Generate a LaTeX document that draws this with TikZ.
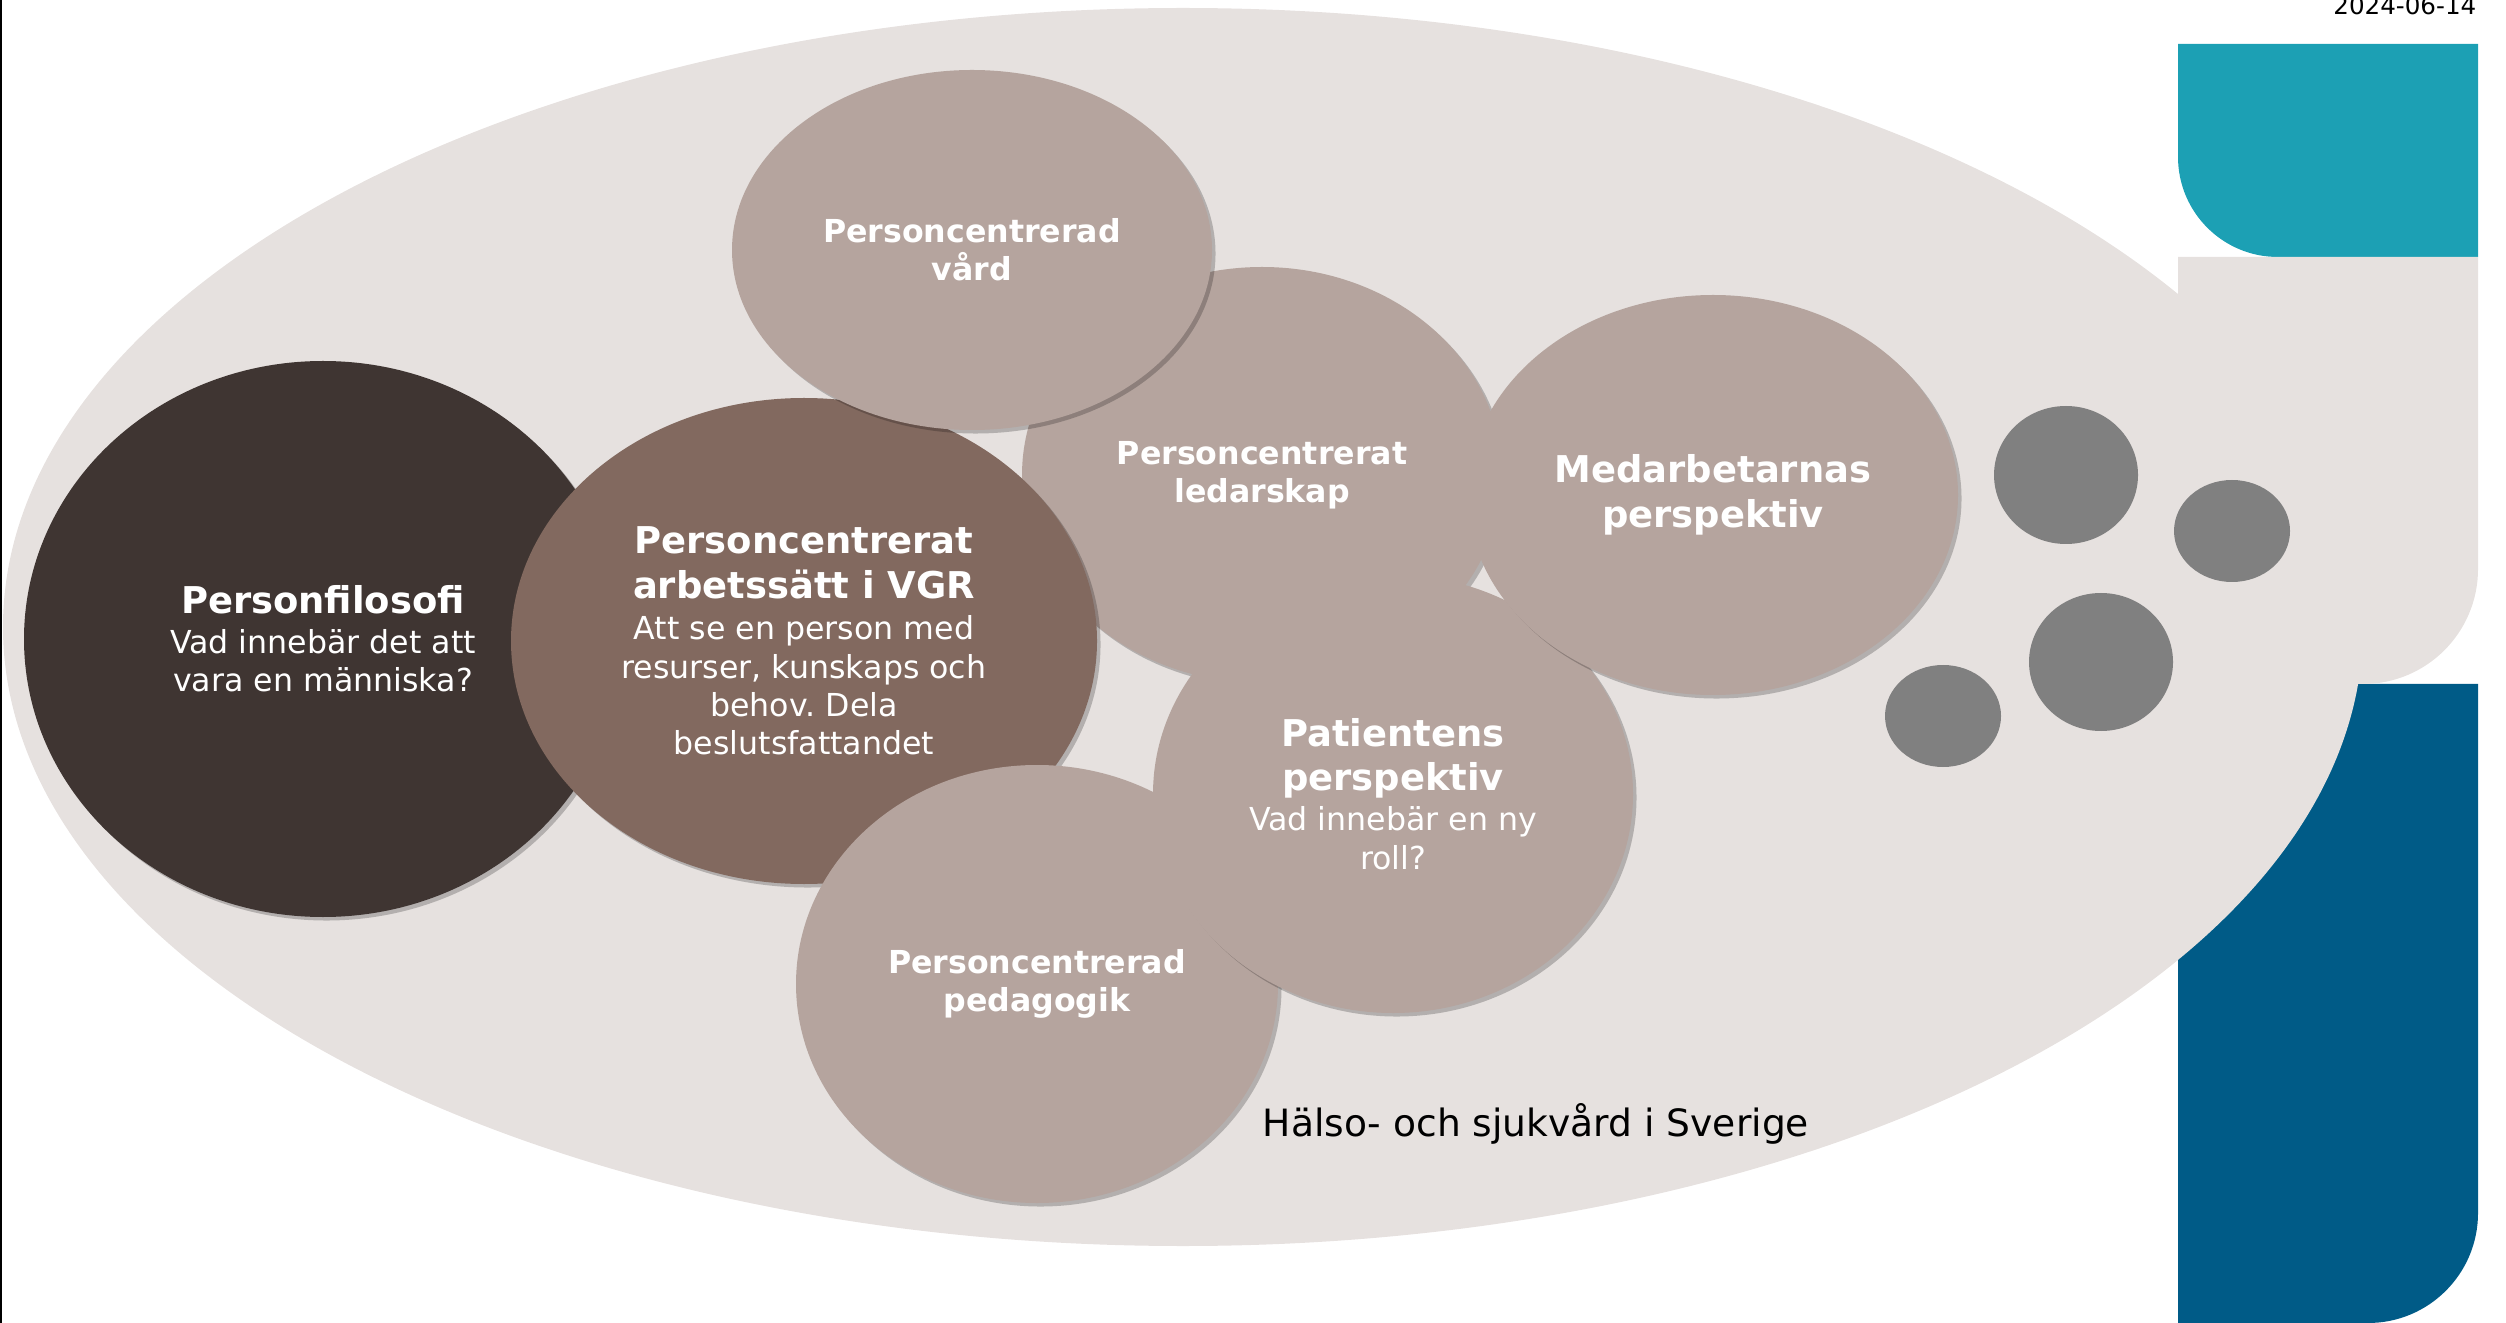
\documentclass[tikz,border=0pt]{standalone}
\usepackage{fontspec}
\setmainfont{DejaVu Sans}
\frenchspacing
\usetikzlibrary{shapes.geometric,shadows}
\definecolor{bgc}{HTML}{E6E1DF}
\definecolor{taupe}{HTML}{B5A49E}
\definecolor{mocca}{HTML}{82695F}
\definecolor{darkc}{HTML}{3F3532}
\definecolor{tealc}{HTML}{1CA0B4}
\definecolor{bluec}{HTML}{005B87}
\tikzset{b/.style={ellipse,fill=taupe,text=white,align=center,inner sep=0pt,
  font=\fontsize{9}{10.9}\selectfont,
  drop shadow={shadow xshift=1pt,shadow yshift=-1pt,opacity=.22,fill=black}}}
\tikzset{d/.style={ellipse,fill=black!50,inner sep=0pt}}
\tikzset{l/.style={inner sep=0pt,text=black}}
\newcommand\bigt[1]{{\fontsize{10.5}{12.7}\selectfont\bfseries #1}}
\newcommand\smt[1]{{\bfseries #1}}

\begin{document}
\begin{tikzpicture}
  \useasboundingbox (0,0) rectangle (25.06,-13.23);
  \fill[bluec] (21.78,-6.84) -| (24.78,-12.13) arc[start angle=0,end angle=-90,radius=1.1] -- (21.78,-13.23) -- cycle;
  \fill[tealc] (21.78,-0.44) -| (24.78,-2.57) -- (22.78,-2.57) arc[start angle=270,end angle=180,radius=1] -- cycle;
  \fill[bgc] (21.78,-2.57) -| (24.78,-5.69) arc[start angle=0,end angle=-90,radius=1.15] -- (21.78,-6.84) -- cycle;
  \fill[bgc] (11.83,-6.27) ellipse[x radius=11.8,y radius=6.19];
  \draw[line width=0.025cm] (0.0125,0) -- (0.0125,-13.23);
  \node[b,fill=darkc,minimum width=5.98cm,minimum height=5.56cm] (filo) at (3.23,-6.39)
    {\bigt{Personfilosofi}\\[0.5pt] Vad innebär det att\\ vara en människa?};
  \node[b,minimum width=4.8cm,minimum height=4.16cm] (led) at (12.62,-4.75)
    {\smt{Personcentrerat}\\ \smt{ledarskap}};
  \node[b,fill=mocca,minimum width=5.86cm,minimum height=4.86cm] (vgr) at (8.04,-6.41)
    {\bigt{Personcentrerat}\\[1.8pt] \bigt{arbetssätt i VGR}\\[0.9pt] Att se en person med\\ resurser, kunskaps och\\ behov. Dela\\ beslutsfattandet};
  \node[b,minimum width=4.8cm,minimum height=3.6cm] (vard) at (9.72,-2.5)
    {\smt{Personcentrerad}\\ \smt{vård}};
  \node[b,minimum width=4.82cm,minimum height=4.38cm] (ped) at (10.37,-9.84)
    {\smt{Personcentrerad}\\ \smt{pedagogik}};
  \node[b,minimum width=4.8cm,minimum height=4.38cm] (pat) at (13.93,-7.94)
    {\bigt{Patientens}\\[1.8pt] \bigt{perspektiv}\\[0.5pt] Vad innebär en ny\\ roll?};
  \node[b,minimum width=4.9cm,minimum height=4cm] (med) at (17.13,-4.95)
    {\bigt{Medarbetarnas}\\[1.8pt] \bigt{perspektiv}};
  \node[d,minimum width=1.44cm,minimum height=1.38cm] (d1) at (20.66,-4.75) {};
  \node[d,minimum width=1.16cm,minimum height=1.02cm] (d2) at (22.32,-5.31) {};
  \node[d,minimum width=1.44cm,minimum height=1.38cm] (d3) at (21.01,-6.62) {};
  \node[d,minimum width=1.16cm,minimum height=1.02cm] (d4) at (19.43,-7.16) {};
  \node[l,anchor=base west,font=\fontsize{10.7}{13}\selectfont] (land) at (12.62,-11.36) {Hälso- och sjukvård i Sverige};
  \node[l,anchor=base east,font=\fontsize{7}{8}\selectfont] (date) at (24.77,-0.15) {2024-06-14};
\end{tikzpicture}
\end{document}
